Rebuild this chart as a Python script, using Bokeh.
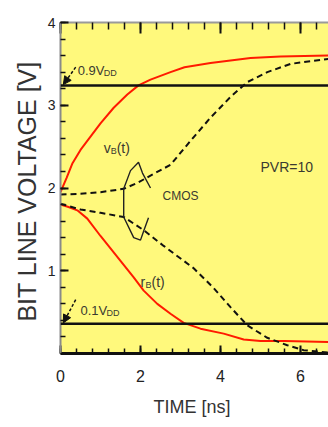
import numpy as np
from bokeh.plotting import figure
from bokeh.models import Range1d, LinearAxis, FixedTicker, Span, Arrow, NormalHead
from bokeh.core.properties import value
from bokeh.embed import file_html
from bokeh.resources import INLINE

# ---------------- data ----------------
VDD = 3.6
thresholds = [0.9, 0.1]          # fractions of VDD

# red: v_B(t) rising
t_vb = [0, 0.15, 0.3, 0.5, 0.75, 1.0, 1.33, 1.67, 1.95, 2.25, 2.75, 3.1, 3.75, 4.4, 4.75, 5.5, 6.7]
v_vb = [1.95, 2.12, 2.30, 2.46, 2.62, 2.78, 2.97, 3.13, 3.24, 3.31, 3.40, 3.46, 3.51, 3.55, 3.57, 3.59, 3.60]

# red: r_B(t) falling
t_rb = [0, 0.2, 0.42, 0.67, 1.0, 1.5, 1.83, 2.08, 2.42, 2.75, 3.08, 3.5, 4.08, 4.58, 5.0, 5.6, 6.7]
v_rb = [1.80, 1.77, 1.73, 1.63, 1.42, 1.12, 0.92, 0.76, 0.60, 0.48, 0.37, 0.30, 0.24, 0.17, 0.15, 0.15, 0.14]

# dashed (CMOS): upper
t_cu = [0, 0.5, 1.0, 1.58, 1.92, 2.25, 2.75, 3.25, 3.75, 4.25, 4.67, 5.17, 5.75, 6.7]
v_cu = [1.92, 1.93, 1.95, 1.99, 2.06, 2.15, 2.28, 2.57, 2.85, 3.10, 3.28, 3.40, 3.50, 3.56]

# dashed (CMOS): lower
t_cl = [0, 0.5, 1.0, 1.58, 2.08, 2.58, 3.33, 3.83, 4.25, 4.67, 5.17, 5.67, 6.08, 6.7]
v_cl = [1.81, 1.74, 1.70, 1.65, 1.49, 1.30, 1.03, 0.79, 0.56, 0.34, 0.19, 0.10, 0.04, 0.01]

# CMOS bracket (annotation strokes)
br_x = [1.58, 1.58]
br_y = [1.99, 1.65]
loop_up_x = [1.58, 1.75, 1.95, 2.05, 2.25]
loop_up_y = [1.99, 2.21, 2.31, 2.18, 2.00]
loop_dn_x = [1.58, 1.83, 2.00, 2.08, 2.20]
loop_dn_y = [1.65, 1.40, 1.37, 1.48, 1.64]

x_major = [0, 2, 4, 6]
y_major = [1, 2, 3, 4]

FONT = "Liberation Sans"
TXT = "#3a3a30"

p = figure(width=328, height=427, output_backend="svg", toolbar_location=None,
           x_range=Range1d(0, 6.7), y_range=Range1d(0, 4),
           x_axis_location=None, y_axis_location=None,
           min_border_left=60, min_border_right=0, min_border_top=22, min_border_bottom=74)
p.background_fill_color = "#FFF97C"
p.border_fill_color = "white"
p.outline_line_color = None
p.grid.visible = False

xt = FixedTicker(ticks=x_major, minor_ticks=list(np.arange(0, 6.8, 0.4)))
yt = FixedTicker(ticks=y_major, minor_ticks=list(np.arange(0, 4.01, 0.2)))

def style(ax, line_color, lw):
    ax.axis_line_color = line_color
    ax.axis_line_width = lw
    ax.major_tick_line_color = "#111111"
    ax.minor_tick_line_color = "#111111"
    ax.major_tick_line_width = 2
    ax.minor_tick_line_width = 1.5
    ax.major_tick_out = 0
    ax.minor_tick_out = 0
    ax.major_tick_in = 8
    ax.minor_tick_in = 5
    ax.major_label_text_font = FONT
    ax.major_label_text_color = "#222222"

left = LinearAxis(ticker=yt, axis_label="BIT LINE VOLTAGE  [V]")
style(left, "#8a8a8a", 2)
left.major_label_text_font_size = "14px"
left.major_label_standoff = 5
left.axis_label_text_font = FONT
left.axis_label_text_font_size = "25px"
left.axis_label_text_font_style = "normal"
left.axis_label_text_color = "#333333"
left.axis_label_standoff = 4
p.add_layout(left, "left")

bottom = LinearAxis(ticker=xt, axis_label="TIME  [ns]")
style(bottom, "#111111", 3)
bottom.major_label_text_font_size = "16px"
bottom.major_label_standoff = 16
bottom.axis_label_text_font = FONT
bottom.axis_label_text_font_size = "18px"
bottom.axis_label_text_font_style = "normal"
bottom.axis_label_text_color = "#333333"
bottom.axis_label_standoff = 12
p.add_layout(bottom, "below")

top = LinearAxis(ticker=xt)
style(top, "#9a9a9a", 2)
top.major_tick_in = 11
top.minor_tick_in = 7
top.major_label_overrides = {0: "", 2: "", 4: "", 6: ""}
top.major_label_standoff = 0
p.add_layout(top, "above")

for f in thresholds:
    p.add_layout(Span(location=f * VDD, dimension="width", line_color="#111111", line_width=2.5))

p.line(t_vb, v_vb, line_color="#FF1A00", line_width=2)
p.line(t_rb, v_rb, line_color="#FF1A00", line_width=2)
p.line(t_cu, v_cu, line_color="#111111", line_width=2, line_dash="6 4")
p.line(t_cl, v_cl, line_color="#111111", line_width=2, line_dash="6 4")

for xs, ys in [(br_x, br_y), (loop_up_x, loop_up_y), (loop_dn_x, loop_dn_y)]:
    p.line(xs, ys, line_color="#222222", line_width=1.4)

# threshold arrows
for f, dy in [(0.9, 0.22), (0.1, 0.29)]:
    yv = f * VDD
    p.add_layout(Arrow(end=NormalHead(size=8, fill_color="#111111", line_color="#111111"),
                       x_start=0.38, y_start=yv + dy, x_end=0.07, y_end=yv + 0.01,
                       line_color="#111111", line_width=1.5, line_dash="3 2"))

# annotation texts
def txt(x, y, s, size, dx=0, dy=0):
    p.text(x=[x], y=[y], text=[s], text_font=value(FONT), text_font_size=size,
           text_color=TXT, x_offset=dx, y_offset=dy, text_baseline="alphabetic", text_align="left")

txt(0.43, 3.42, "0.9V", "13px")
txt(0.43, 3.42, "DD", "9px", dx=26, dy=3)
txt(0.50, 0.52, "0.1V", "13px")
txt(0.50, 0.52, "DD", "9px", dx=26, dy=3)
txt(1.08, 2.48, "v", "14px")
txt(1.08, 2.48, "B", "9px", dx=7, dy=3)
txt(1.08, 2.48, "(t)", "14px", dx=13)
txt(2.00, 0.87, "r", "14px")
txt(2.00, 0.87, "B", "9px", dx=5, dy=3)
txt(2.00, 0.87, "(t)", "14px", dx=11)
txt(2.55, 1.90, "CMOS", "12px")
txt(5.00, 2.25, "PVR=10", "14px")

open("out.html", "w").write(file_html(p, INLINE))
